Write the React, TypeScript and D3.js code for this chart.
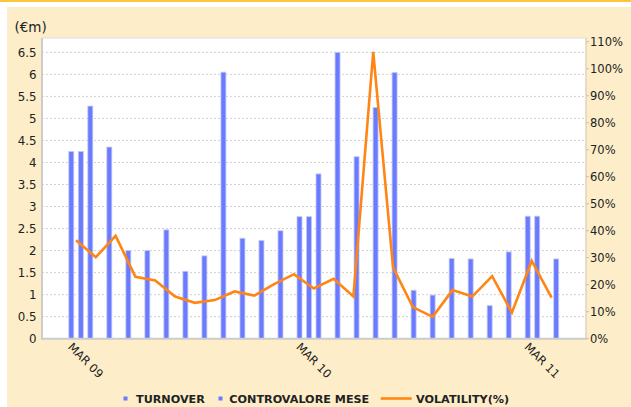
import React from "react";
import * as d3 from "d3";

// Month offsets from MAR 09
const monthlyMonths = [0, 1, 2, 3, 4, 5, 6, 7, 8, 9, 10, 11, 12, 13, 14, 15, 16, 17, 18, 19, 20, 21, 22, 23, 24, 25.5];
const controvaloreMese = [4.25, 5.28, 4.35, 2.0, 2.0, 2.47, 1.53, 1.88, 6.05, 2.28, 2.23, 2.45, 2.77, 3.74, 6.5, 4.13, 5.25, 6.04, 1.1, 0.99, 1.82, 1.81, 0.75, 1.97, 2.78, 1.81];
const turnoverMonths = [0.5, 12.5, 24.5];
const turnover = [4.25, 2.77, 2.78];
const volatility = [36.5, 30.2, 38.1, 22.9, 21.6, 15.6, 13.3, 14.3, 17.5, 16.0, 20.2, 23.9, 18.6, 22.2, 15.6, 106.3, 26.4, 11.7, 8.1, 18.0, 15.6, 23.2, 9.7, 28.8, 15.2];
const volStartMonth = 0.247;
const volStepMonth = 1.042;
const xTickMonths = [0, 12, 24];
const xTickLabels = ["MAR 09", "MAR 10", "MAR 11"];
const leftTicks = [0, 0.5, 1, 1.5, 2, 2.5, 3, 3.5, 4, 4.5, 5, 5.5, 6, 6.5];
const rightTicks = [0, 10, 20, 30, 40, 50, 60, 70, 80, 90, 100, 110];

const W = 631, H = 407;
const plotL = 42, plotR = 586, plotT = 38, plotB = 338.7;
const BAR = "#6b7bff";
const ORANGE = "#ff8514";
const FONT = "'DejaVu Sans', Verdana, sans-serif";

export default function App() {
  const x = d3.scaleLinear().domain([0, 24]).range([71.3, 527.7]);
  const yL = d3.scaleLinear().domain([0, 6.825]).range([plotB, plotT]);
  const yR = d3.scaleLinear().domain([0, 111.4]).range([plotB, plotT]);
  const line = d3
    .line<number>()
    .x((_, i) => x(volStartMonth + i * volStepMonth))
    .y((d) => yR(d));
  const bw = 5;
  const bars = [
    ...monthlyMonths.map((m, i) => ({ m, v: controvaloreMese[i] })),
    ...turnoverMonths.map((m, i) => ({ m, v: turnover[i] })),
  ];
  return (
    <svg width={W} height={H} style={{ position: "absolute", left: 0, top: 0 }} fontFamily={FONT}>
      <rect x={0} y={0} width={W} height={H} fill="#fff" />
      <rect x={0} y={0} width={W} height={2} fill="#fbc63a" />
      <rect x={7} y={7} width={W - 7} height={H - 7} fill="#fdeec9" />
      <rect x={plotL} y={plotT} width={plotR - plotL} height={plotB - plotT} fill="#fff" />
      {leftTicks.filter((t) => t > 0).map((t) => (
        <line key={t} x1={plotL} x2={plotR} y1={yL(t)} y2={yL(t)} stroke="#d0d0d0" strokeWidth={1} strokeDasharray="2,2" />
      ))}
      <line x1={plotL} x2={plotR} y1={plotT} y2={plotT} stroke="#e0e0e0" strokeWidth={1} />
      {bars.map((b, i) => (
        <rect key={i} x={x(b.m) - bw / 2} y={yL(b.v)} width={bw} height={plotB - yL(b.v)} fill={BAR} stroke="#c5caf2" strokeWidth={0.8} />
      ))}
      <path d={line(volatility) || ""} fill="none" stroke={ORANGE} strokeWidth={2.6} strokeLinejoin="miter" />
      <line x1={plotL} x2={plotL} y1={plotT} y2={plotB + 1} stroke="#cccccc" strokeWidth={2} />
      <line x1={plotL - 1} x2={plotR} y1={plotB} y2={plotB} stroke="#cccccc" strokeWidth={2} />
      <line x1={plotR} x2={plotR} y1={plotT} y2={plotB + 1} stroke="#d8ccb0" strokeWidth={1.2} />
      {leftTicks.map((t) => (
        <text key={t} x={36.5} y={yL(t)} dy="0.36em" textAnchor="end" fontSize={11.8} fill="#222">
          {String(t)}
        </text>
      ))}
      {rightTicks.map((t) => (
        <g key={t}>
          <line x1={plotR} x2={plotR + 3} y1={yR(t)} y2={yR(t)} stroke="#c8c0a8" strokeWidth={1} />
          <text x={590} y={yR(t)} dy="0.36em" fontSize={11.5} fill="#222">
            {t + "%"}
          </text>
        </g>
      ))}
      <text x={14.5} y={32} fontSize={13.5} fill="#222">(€m)</text>
      {xTickMonths.map((m, i) => (
        <text key={m} transform={`translate(${x(m) - 4},${plotB + 9}) rotate(45)`} fontSize={11.5} fill="#222">
          {xTickLabels[i]}
        </text>
      ))}
      <rect x={123.5} y={396.5} width={4} height={4} fill={BAR} />
      <text x={136} y={403} fontSize={11.2} fontWeight="bold" fill="#222">TURNOVER</text>
      <rect x={218.5} y={396.5} width={4} height={4} fill={BAR} />
      <text x={229.3} y={403} fontSize={11.2} fontWeight="bold" fill="#222">CONTROVALORE MESE</text>
      <line x1={380.7} x2={411.7} y1={398.5} y2={398.5} stroke={ORANGE} strokeWidth={2.6} />
      <text x={416} y={403} fontSize={11.2} fontWeight="bold" fill="#222">VOLATILITY(%)</text>
    </svg>
  );
}
